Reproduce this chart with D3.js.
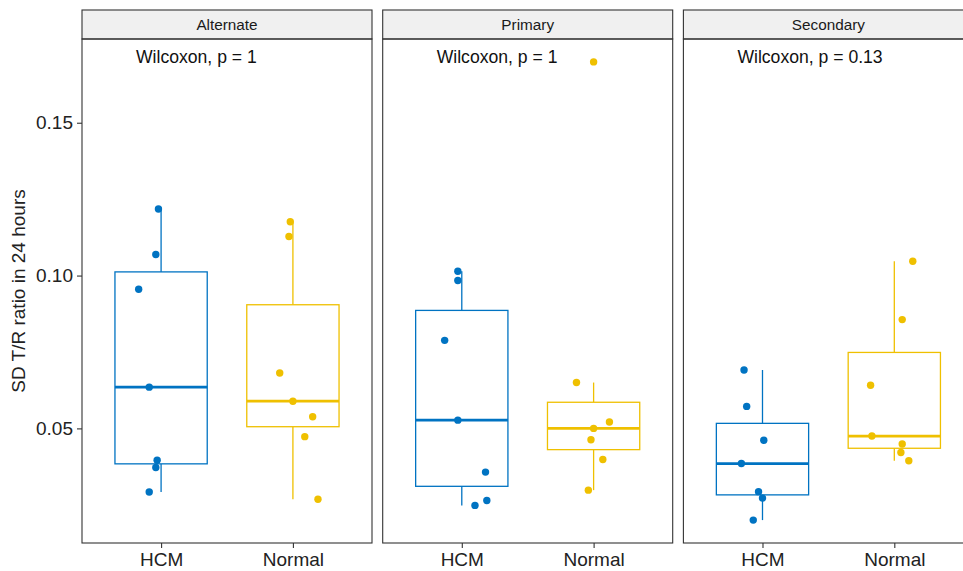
<!DOCTYPE html>
<html>
<head>
<meta charset="utf-8">
<script src="https://cdn.jsdelivr.net/npm/d3@7"></script>
<style>
  body { margin: 0; background: #fff; }
  text { font-family: "Liberation Sans", Arial, sans-serif; }
</style>
</head>
<body>
<div id="chart"></div>
<script>
// facets, groups and test labels
var facets = ["Alternate", "Primary", "Secondary"];
var groups = ["HCM", "Normal"];
var testLabels = ["Wilcoxon, p = 1", "Wilcoxon, p = 1", "Wilcoxon, p = 0.13"];
var yTicks = [0.05, 0.10, 0.15];

// values per facet and group
var alternateHCM    = [0.1218, 0.1069, 0.0955, 0.0635, 0.0396, 0.0372, 0.0292];
var alternateNormal = [0.1176, 0.1128, 0.0681, 0.0589, 0.0538, 0.0473, 0.0268];
var primaryHCM      = [0.1014, 0.0984, 0.0788, 0.0527, 0.0357, 0.0264, 0.0248];
var primaryNormal   = [0.1699, 0.0650, 0.0521, 0.0500, 0.0463, 0.0398, 0.0298];
var secondaryHCM    = [0.0691, 0.0572, 0.0461, 0.0385, 0.0293, 0.0272, 0.0200];
var secondaryNormal = [0.1047, 0.0856, 0.0641, 0.0475, 0.0449, 0.0421, 0.0394];

// horizontal jitter of each point, in category units
var alternateHCMJitter    = [-0.02, -0.04, -0.17, -0.09, -0.03, -0.04, -0.09];
var alternateNormalJitter = [-0.02, -0.03, -0.10, 0.00, 0.15, 0.09, 0.19];
var primaryHCMJitter      = [-0.03, -0.03, -0.13, -0.03, 0.18, 0.19, 0.10];
var primaryNormalJitter   = [0.00, -0.13, 0.12, 0.00, -0.02, 0.07, -0.04];
var secondaryHCMJitter    = [-0.14, -0.12, 0.01, -0.16, -0.03, 0.00, -0.07];
var secondaryNormalJitter = [0.14, 0.06, -0.18, -0.17, 0.06, 0.05, 0.11];

var values = [
    [alternateHCM, alternateNormal],
    [primaryHCM, primaryNormal],
    [secondaryHCM, secondaryNormal]
];
var jitters = [
    [alternateHCMJitter, alternateNormalJitter],
    [primaryHCMJitter, primaryNormalJitter],
    [secondaryHCMJitter, secondaryNormalJitter]
];

var colors = d3.scaleOrdinal().domain(groups).range(["#0073C2", "#EFC000"]);

var width = 963, height = 571;
var panelLeft = 82, panelWidth = 290, panelGap = 10.7;
var stripTop = 10, stripHeight = 29;
var plotTop = stripTop + stripHeight, plotBottom = 543;

var svg = d3.select("#chart").append("svg")
    .attr("width", width)
    .attr("height", height);

// y scale with 5% expansion like ggplot
var all = d3.merge(d3.merge(values));
var ext = d3.extent(all);
var pad = (ext[1] - ext[0]) * 0.05;
var y = d3.scaleLinear()
    .domain([ext[0] - pad, ext[1] + pad])
    .range([plotBottom, plotTop]);

function boxStats(arr) {
    var s = arr.slice().sort(d3.ascending);
    var q1 = d3.quantile(s, 0.25), med = d3.quantile(s, 0.5), q3 = d3.quantile(s, 0.75);
    var iqr = q3 - q1;
    var lo = d3.min(s.filter(function(v) { return v >= q1 - 1.5 * iqr; }));
    var hi = d3.max(s.filter(function(v) { return v <= q3 + 1.5 * iqr; }));
    return {q1: q1, med: med, q3: q3, lo: lo, hi: hi};
}

// y axis (left of first panel)
var yAxis = svg.append("g")
    .attr("transform", "translate(" + panelLeft + ",0)")
    .call(d3.axisLeft(y).tickValues(yTicks).tickFormat(d3.format(".2f")).tickSize(5).tickPadding(4));
yAxis.select(".domain").remove();
yAxis.selectAll(".tick line").attr("stroke", "#333").attr("stroke-width", 1.1);
yAxis.selectAll(".tick text").attr("font-size", 19).attr("fill", "#222")
    .style("font-family", "'Liberation Sans', Arial, sans-serif");

// y axis title
svg.append("text")
    .attr("transform", "translate(25," + ((plotTop + plotBottom) / 2) + ") rotate(-90)")
    .attr("text-anchor", "middle")
    .attr("font-size", 19)
    .attr("fill", "#222")
    .text("SD T/R ratio in 24 hours");

facets.forEach(function(facet, fi) {
    var left = panelLeft + fi * (panelWidth + panelGap);
    var g = svg.append("g").attr("transform", "translate(" + left + ",0)");

    var x = d3.scalePoint().domain(groups).range([0, panelWidth]).padding(0.6);
    var step = x.step();
    var boxW = 0.7 * step;

    // strip
    g.append("rect")
        .attr("x", 0).attr("y", stripTop)
        .attr("width", panelWidth).attr("height", stripHeight)
        .attr("fill", "#F0F0F0")
        .attr("stroke", "#333").attr("stroke-width", 1.1);
    g.append("text")
        .attr("x", panelWidth / 2).attr("y", stripTop + 20)
        .attr("text-anchor", "middle")
        .attr("font-size", 15.3)
        .attr("fill", "#1a1a1a")
        .text(facet);

    // x axis
    var xAxis = g.append("g")
        .attr("transform", "translate(0," + plotBottom + ")")
        .call(d3.axisBottom(x).tickSize(5).tickPadding(5));
    xAxis.select(".domain").remove();
    xAxis.selectAll(".tick line").attr("stroke", "#333").attr("stroke-width", 1.1);
    xAxis.selectAll(".tick text").attr("font-size", 19).attr("fill", "#222")
        .style("font-family", "'Liberation Sans', Arial, sans-serif");

    // boxes
    groups.forEach(function(grp, gi) {
        var st = boxStats(values[fi][gi]);
        var cx = x(grp);
        var col = colors(grp);
        var bg = g.append("g");
        bg.append("line")
            .attr("x1", cx).attr("x2", cx)
            .attr("y1", y(st.q3)).attr("y2", y(st.hi))
            .attr("stroke", col).attr("stroke-width", 1.3);
        bg.append("line")
            .attr("x1", cx).attr("x2", cx)
            .attr("y1", y(st.q1)).attr("y2", y(st.lo))
            .attr("stroke", col).attr("stroke-width", 1.3);
        bg.append("rect")
            .attr("x", cx - boxW / 2).attr("width", boxW)
            .attr("y", y(st.q3)).attr("height", y(st.q1) - y(st.q3))
            .attr("fill", "white")
            .attr("stroke", col).attr("stroke-width", 1.3);
        bg.append("line")
            .attr("x1", cx - boxW / 2).attr("x2", cx + boxW / 2)
            .attr("y1", y(st.med)).attr("y2", y(st.med))
            .attr("stroke", col).attr("stroke-width", 2.8);
    });

    // jittered points
    groups.forEach(function(grp, gi) {
        g.selectAll(null)
            .data(values[fi][gi])
            .enter()
            .append("circle")
            .attr("cx", function(d, i) { return x(grp) + jitters[fi][gi][i] * step; })
            .attr("cy", function(d) { return y(d); })
            .attr("r", 3.7)
            .attr("fill", colors(grp));
    });

    // test label
    g.append("text")
        .attr("x", 54).attr("y", 63)
        .attr("font-size", 17.6)
        .attr("fill", "#111")
        .text(testLabels[fi]);

    // panel border
    g.append("rect")
        .attr("x", 0).attr("y", plotTop)
        .attr("width", panelWidth).attr("height", plotBottom - plotTop)
        .attr("fill", "none")
        .attr("stroke", "#333").attr("stroke-width", 1.1);
});
</script>
</body>
</html>
